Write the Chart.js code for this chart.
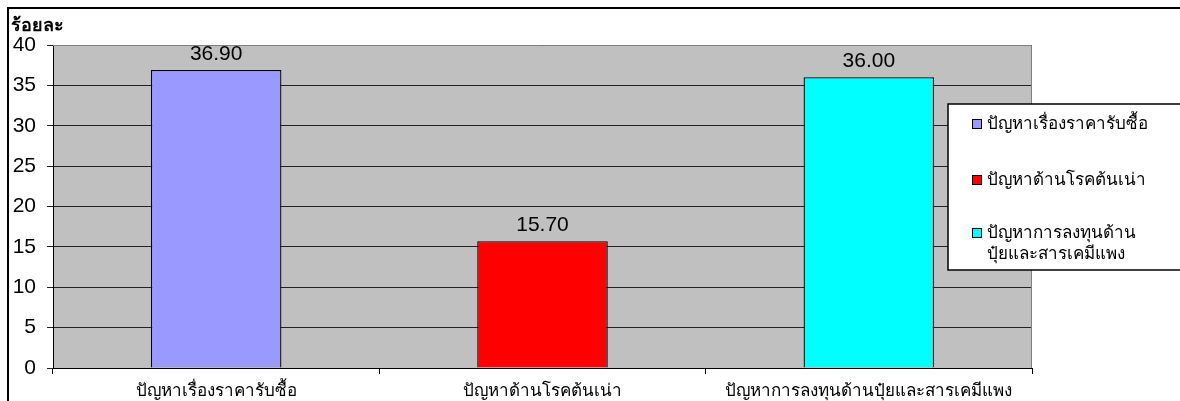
<!DOCTYPE html>
<html>
<head>
<meta charset="utf-8">
<script src="https://cdn.jsdelivr.net/npm/chart.js@4"></script>
<style>
  html, body { margin: 0; padding: 0; background: #fff; }
  #wrap { width: 1180px; height: 401px; position: relative; }
</style>
</head>
<body>
<div id="wrap"><canvas id="chart" width="1180" height="401"></canvas></div>
<script>
const categories = ["ปัญหาเรื่องราคารับซื้อ", "ปัญหาด้านโรคต้นเน่า", "ปัญหาการลงทุนด้านปุ๋ยและสารเคมีแพง"];
const legendLabels = [["ปัญหาเรื่องราคารับซื้อ"], ["ปัญหาด้านโรคต้นเน่า"], ["ปัญหาการลงทุนด้าน", "ปุ๋ยและสารเคมีแพง"]];
const values = [36.9, 15.7, 36.0];
const barColors = ["#9999FF", "#FF0000", "#00FFFF"];
const yTitle = "ร้อยละ";

const FONT = "'Liberation Sans', Arial, sans-serif";

// gray plot background + outer frame
const backdrop = {
  id: "backdrop",
  beforeDraw(chart) {
    const { ctx, chartArea: a } = chart;
    ctx.save();
    ctx.fillStyle = "#C0C0C0";
    ctx.fillRect(a.left, a.top, a.right - a.left, a.bottom - a.top);
    ctx.restore();
  },
  afterDraw(chart) {
    const { ctx, chartArea: a } = chart;
    ctx.save();
    // plot border top/right in gray
    ctx.strokeStyle = "#808080";
    ctx.lineWidth = 1;
    ctx.beginPath();
    ctx.moveTo(a.left, a.top + 0.5);
    ctx.lineTo(a.right - 0.5, a.top + 0.5);
    ctx.lineTo(a.right - 0.5, a.bottom);
    ctx.stroke();
    // outer frame
    ctx.strokeStyle = "#000";
    ctx.lineWidth = 2;
    ctx.beginPath();
    ctx.moveTo(8, 410);
    ctx.lineTo(8, 8);
    ctx.lineTo(1190, 8);
    ctx.stroke();
    // y title
    ctx.fillStyle = "#000";
    ctx.font = "bold 18px " + FONT;
    ctx.textBaseline = "middle";
    ctx.textAlign = "left";
    ctx.fillText(yTitle, 11, 26);
    // value labels
    ctx.font = "21px " + FONT;
    ctx.textAlign = "center";
    ctx.textBaseline = "alphabetic";
    const meta = chart.getDatasetMeta(0);
    meta.data.forEach((bar, i) => {
      ctx.fillText(values[i].toFixed(2), bar.x, bar.y - 10);
    });
    // legend
    const lx = 948, ly = 104, lw = 240, lh = 166;
    ctx.fillStyle = "#fff";
    ctx.fillRect(lx, ly, lw, lh);
    ctx.strokeStyle = "#000";
    ctx.lineWidth = 1.5;
    ctx.strokeRect(lx, ly, lw, lh);
    const rows = [124, 180, 233];
    ctx.font = "17px " + FONT;
    ctx.textAlign = "left";
    ctx.textBaseline = "middle";
    legendLabels.forEach((lines, i) => {
      const y = rows[i];
      ctx.fillStyle = barColors[i];
      ctx.fillRect(972, y - 5, 10, 10);
      ctx.strokeStyle = "#000";
      ctx.lineWidth = 1;
      ctx.strokeRect(972.5, y - 4.5, 9, 9);
      ctx.fillStyle = "#000";
      lines.forEach((t, j) => ctx.fillText(t, 987, y + j * 21));
    });
    ctx.restore();
  }
};

new Chart(document.getElementById("chart"), {
  type: "bar",
  data: {
    labels: categories,
    datasets: [
      {
        data: values,
        backgroundColor: barColors,
        borderColor: "#000",
        borderWidth: 1.3,
        barPercentage: 0.8,
        categoryPercentage: 0.5,
      },
    ],
  },
  options: {
    responsive: false,
    animation: false,
    layout: { padding: { left: 12, top: 45, right: 148, bottom: 0 } },
    plugins: {
      legend: { display: false },
      tooltip: { enabled: false },
    },
    scales: {
      x: {
        afterFit: (s) => { s.height = 33; },
        border: { color: "#000", width: 1 },
        grid: { offset: true, drawOnChartArea: false, tickLength: 6, color: "#000" },
        ticks: { color: "#000", font: { family: FONT, size: 17 }, padding: 7, maxRotation: 0 },
      },
      y: {
        min: 0,
        max: 40,
        afterFit: (s) => { s.width = 41; },
        border: { color: "#000", width: 1 },
        grid: { color: "#222", tickLength: 6 },
        ticks: { stepSize: 5, color: "#000", font: { family: FONT, size: 21 }, padding: 11 },
      },
    },
  },
  plugins: [backdrop],
});
</script>
</body>
</html>
